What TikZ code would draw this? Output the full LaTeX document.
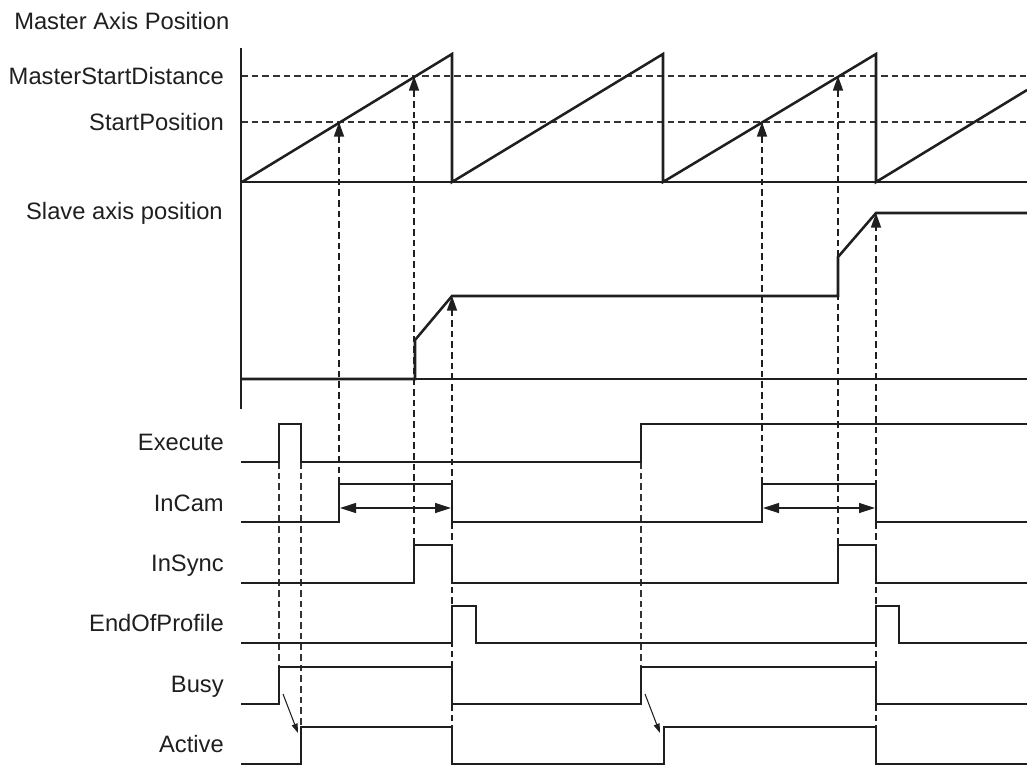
\documentclass[tikz,border=0pt]{standalone}
\usepackage{fontspec}
\setmainfont{Liberation Sans}
\usetikzlibrary{arrows.meta}
\begin{document}
\begin{tikzpicture}[x=0.75pt,y=-0.75pt,
  lbl/.style={font=\fontsize{17.8}{21}\selectfont, inner sep=0pt, text=black!88},
  sig/.style={line width=1.9pt, line join=miter, draw=black!88},
  axisline/.style={line width=1.1pt, draw=black!88},
  baseline/.style={line width=1.6pt, draw=black!88},
  guide/.style={line width=0.9pt, draw=black!80, dash pattern=on 5pt off 3pt},
  vguide/.style={line width=1.3pt, draw=black!88, dash pattern=on 5pt off 3pt},
  uparrow/.style={-{Triangle[length=11pt,width=7.5pt]}},
  span/.style={{Triangle[length=12pt,width=7.5pt]}-{Triangle[length=12pt,width=7.5pt]}, line width=0.9pt, draw=black!88},
  delay/.style={-{Triangle[length=7pt,width=4.5pt]}, line width=0.8pt, draw=black!88}]
\useasboundingbox (0,0) rectangle (1027,765);

% ---- labels
\node[lbl, anchor=base west] (mtitle) at (14,29) {Master Axis Position};
\node[lbl, anchor=base east] (msd) at (224,84) {MasterStartDistance};
\node[lbl, anchor=base east] (spos) at (224,130) {StartPosition};
\node[lbl, anchor=base east] (stitle) at (223,219) {Slave axis position};
\node[lbl, anchor=base east] (lexec) at (224,450.5) {Execute};
\node[lbl, anchor=base east] (lincam) at (224,511) {InCam};
\node[lbl, anchor=base east] (linsync) at (224,571) {InSync};
\node[lbl, anchor=base east] (leop) at (224,631.5) {EndOfProfile};
\node[lbl, anchor=base east] (lbusy) at (224,692) {Busy};
\node[lbl, anchor=base east] (lactive) at (224,752.5) {Active};

% ---- key coordinates
\coordinate (ax top) at (241,48);
\coordinate (ax bot) at (241,409);
\coordinate (msd l) at (241,76);  \coordinate (msd r) at (1027,76);
\coordinate (sp l) at (241,122);  \coordinate (sp r) at (1027,122);
\coordinate (mb l) at (241,182);  \coordinate (mb r) at (1027,182);
\coordinate (sb l) at (241,379);  \coordinate (sb r) at (1027,379);

% ---- horizontal guides
\draw[guide] (msd l) -- (msd r);
\draw[guide] (sp l) -- (sp r);

% ---- vertical guides
\coordinate (sp1) at (339,122);   \coordinate (incamup1) at (339,484);
\coordinate (msd1) at (414,76);   \coordinate (insyncup1) at (414,545);
\coordinate (sl1) at (452,296);   \coordinate (act1) at (452,764);
\coordinate (sp2) at (762,122);   \coordinate (incamup2) at (762,484);
\coordinate (msd2) at (838,76);   \coordinate (insyncup2) at (838,545);
\coordinate (sl2) at (876,213);   \coordinate (act2) at (876,764);
\coordinate (ex1) at (279,462);   \coordinate (busy1) at (279,667);
\coordinate (ex2) at (301,462);   \coordinate (actup1) at (301,727);
\coordinate (ex3) at (641,462);   \coordinate (busy2) at (641,667);

\draw[vguide, uparrow] (incamup1) -- (sp1);
\draw[vguide, uparrow] (insyncup1) -- (msd1);
\draw[vguide, uparrow] (act1) -- (sl1);
\draw[vguide, uparrow] (incamup2) -- (sp2);
\draw[vguide, uparrow] (insyncup2) -- (msd2);
\draw[vguide, uparrow] (act2) -- (sl2);
\draw[guide] (ex1) -- (busy1);
\draw[guide] (ex2) -- (actup1);
\draw[guide] (ex3) -- (busy2);

% ---- axes
\draw[axisline] (ax top) -- (ax bot);
\draw[baseline] (mb l) -- (mb r);
\draw[baseline] (sb l) -- (sb r);

% ---- master sawtooth
\draw[sig] (242,182) -- (452,54) -- (452,182) -- (663,54) -- (663,182) -- (876,54) -- (876,182) -- (1027,90);

% ---- slave position
\draw[sig] (241,379) -- (415,379) -- (415,340) -- (452,296) -- (838,296) -- (838,257) -- (876,213) -- (1027,213);

% ---- signals
\draw[sig] (241,462) -- (279,462) -- (279,424) -- (301,424) -- (301,462) -- (641,462) -- (641,424) -- (1027,424);
\draw[sig] (241,522) -- (339,522) -- (339,484) -- (452,484) -- (452,522) -- (762,522) -- (762,484) -- (876,484) -- (876,522) -- (1027,522);
\draw[sig] (241,583) -- (414,583) -- (414,545) -- (452,545) -- (452,583) -- (838,583) -- (838,545) -- (876,545) -- (876,583) -- (1027,583);
\draw[sig] (241,643) -- (452,643) -- (452,606) -- (476,606) -- (476,643) -- (876,643) -- (876,606) -- (899,606) -- (899,643) -- (1027,643);
\draw[sig] (241,704) -- (279,704) -- (279,667) -- (452,667) -- (452,704) -- (641,704) -- (641,667) -- (876,667) -- (876,704) -- (1027,704);
\draw[sig] (241,764) -- (301,764) -- (301,727) -- (452,727) -- (452,764) -- (664,764) -- (664,727) -- (876,727) -- (876,764) -- (1027,764);

% ---- InCam spans
\coordinate (span1 l) at (340,508); \coordinate (span1 r) at (451,508);
\coordinate (span2 l) at (763,508); \coordinate (span2 r) at (875,508);
\draw[span] (span1 l) -- (span1 r);
\draw[span] (span2 l) -- (span2 r);

% ---- Busy -> Active delay arrows
\coordinate (d1 s) at (283,694); \coordinate (d1 e) at (298,733);
\coordinate (d2 s) at (645,694); \coordinate (d2 e) at (660,733);
\draw[delay] (d1 s) -- (d1 e);
\draw[delay] (d2 s) -- (d2 e);
\end{tikzpicture}
\end{document}
